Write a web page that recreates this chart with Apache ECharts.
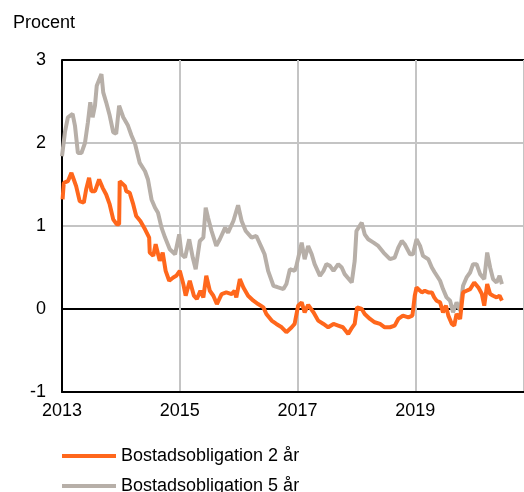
<!DOCTYPE html>
<html>
<head>
<meta charset="utf-8">
<script src="https://cdn.jsdelivr.net/npm/echarts@6/dist/echarts.min.js"></script>
<style>
  html, body { margin: 0; padding: 0; background: #fff; }
  #chart { width: 524px; height: 492px; }
</style>
</head>
<body>
<div id="chart"></div>
<script>
// Räntor, procent. x = decimalår
const seriesNames = ['Bostadsobligation 2 år', 'Bostadsobligation 5 år']
const yTicks = [-1, 0, 1, 2, 3]
const xTicks = [2013, 2015, 2017, 2019]

const t2 = [2013.01, 2013.03, 2013.10, 2013.16, 2013.20, 2013.24, 2013.30, 2013.37, 2013.41, 2013.46,
  2013.50, 2013.56, 2013.63, 2013.69, 2013.75, 2013.81, 2013.87, 2013.93, 2013.97, 2013.98,
  2014.07, 2014.09, 2014.15, 2014.21, 2014.26, 2014.33, 2014.41, 2014.48, 2014.49, 2014.55,
  2014.59, 2014.66, 2014.71, 2014.76, 2014.82, 2014.89, 2014.94, 2015.00, 2015.06, 2015.10,
  2015.17, 2015.24, 2015.29, 2015.35, 2015.40, 2015.45, 2015.51, 2015.57, 2015.63, 2015.71,
  2015.79, 2015.88, 2015.93, 2015.96, 2016.02, 2016.08, 2016.16, 2016.25, 2016.33, 2016.42,
  2016.47, 2016.56, 2016.64, 2016.73, 2016.81, 2016.90, 2016.95, 2017.01, 2017.07, 2017.12,
  2017.18, 2017.27, 2017.35, 2017.44, 2017.52, 2017.61, 2017.69, 2017.77, 2017.86, 2017.91,
  2017.97, 2018.01, 2018.09, 2018.14, 2018.23, 2018.31, 2018.40, 2018.48, 2018.57, 2018.65,
  2018.71, 2018.79, 2018.88, 2018.95, 2018.99, 2019.02, 2019.05, 2019.11, 2019.16, 2019.22,
  2019.28, 2019.32, 2019.36, 2019.42, 2019.47, 2019.52, 2019.56, 2019.62, 2019.66, 2019.70,
  2019.76, 2019.81, 2019.87, 2019.93, 2020.00, 2020.07, 2020.13, 2020.17, 2020.22, 2020.27,
  2020.32, 2020.38, 2020.43, 2020.47]
const rate2 = [1.32, 1.52, 1.54, 1.64, 1.56, 1.48, 1.30, 1.28, 1.44, 1.58,
  1.42, 1.42, 1.56, 1.46, 1.38, 1.26, 1.08, 1.02, 1.02, 1.54,
  1.48, 1.42, 1.40, 1.26, 1.12, 1.06, 0.96, 0.86, 0.68, 0.64,
  0.78, 0.58, 0.68, 0.46, 0.34, 0.38, 0.40, 0.46, 0.30, 0.16,
  0.34, 0.16, 0.12, 0.22, 0.14, 0.40, 0.22, 0.16, 0.06, 0.18,
  0.20, 0.18, 0.22, 0.14, 0.36, 0.26, 0.16, 0.10, 0.06, 0.02,
  -0.06, -0.14, -0.18, -0.22, -0.28, -0.22, -0.18, 0.04, 0.08, -0.04,
  0.05, -0.04, -0.14, -0.18, -0.22, -0.18, -0.20, -0.22, -0.30, -0.24,
  -0.18, 0.02, 0.00, -0.06, -0.12, -0.16, -0.18, -0.22, -0.22, -0.20,
  -0.12, -0.08, -0.10, -0.08, 0.16, 0.26, 0.26, 0.20, 0.22, 0.20,
  0.20, 0.14, 0.10, 0.08, -0.04, 0.04, -0.08, -0.18, -0.20, -0.06,
  -0.12, 0.20, 0.22, 0.24, 0.32, 0.26, 0.18, 0.04, 0.30, 0.18,
  0.16, 0.14, 0.16, 0.10]

const t5 = [2013.00, 2013.05, 2013.10, 2013.18, 2013.22, 2013.27, 2013.33, 2013.39, 2013.44, 2013.48,
  2013.52, 2013.56, 2013.59, 2013.67, 2013.70, 2013.75, 2013.81, 2013.87, 2013.92, 2013.97,
  2014.04, 2014.12, 2014.18, 2014.24, 2014.32, 2014.41, 2014.46, 2014.52, 2014.58, 2014.63,
  2014.69, 2014.75, 2014.83, 2014.92, 2014.99, 2015.03, 2015.09, 2015.16, 2015.22, 2015.27,
  2015.34, 2015.40, 2015.44, 2015.48, 2015.54, 2015.62, 2015.68, 2015.77, 2015.82, 2015.91,
  2015.99, 2016.05, 2016.12, 2016.22, 2016.30, 2016.39, 2016.44, 2016.50, 2016.59, 2016.67,
  2016.76, 2016.81, 2016.87, 2016.95, 2016.98, 2017.07, 2017.12, 2017.18, 2017.24, 2017.29,
  2017.38, 2017.44, 2017.49, 2017.55, 2017.61, 2017.69, 2017.75, 2017.80, 2017.92, 2017.97,
  2018.00, 2018.09, 2018.14, 2018.20, 2018.29, 2018.37, 2018.46, 2018.57, 2018.65, 2018.71,
  2018.77, 2018.82, 2018.91, 2018.96, 2019.02, 2019.08, 2019.13, 2019.22, 2019.28, 2019.33,
  2019.42, 2019.47, 2019.53, 2019.59, 2019.64, 2019.70, 2019.76, 2019.81, 2019.87, 2019.93,
  2019.98, 2020.04, 2020.10, 2020.17, 2020.22, 2020.27, 2020.32, 2020.38, 2020.43, 2020.47]
const rate5 = [1.84, 2.13, 2.31, 2.35, 2.21, 1.88, 1.88, 2.00, 2.25, 2.49,
  2.31, 2.45, 2.69, 2.83, 2.61, 2.49, 2.33, 2.13, 2.11, 2.45,
  2.31, 2.21, 2.09, 1.99, 1.76, 1.66, 1.56, 1.32, 1.22, 1.16,
  0.98, 0.86, 0.72, 0.66, 0.90, 0.66, 0.62, 0.84, 0.62, 0.48,
  0.82, 0.86, 1.22, 1.10, 0.94, 0.76, 0.84, 0.98, 0.92, 1.06,
  1.25, 1.06, 0.94, 0.86, 0.88, 0.74, 0.66, 0.46, 0.28, 0.26,
  0.24, 0.30, 0.48, 0.46, 0.52, 0.80, 0.60, 0.76, 0.66, 0.54,
  0.40, 0.46, 0.54, 0.52, 0.46, 0.54, 0.50, 0.42, 0.32, 0.58,
  0.94, 1.04, 0.90, 0.84, 0.80, 0.76, 0.68, 0.60, 0.62, 0.74,
  0.82, 0.78, 0.66, 0.66, 0.84, 0.76, 0.64, 0.60, 0.50, 0.44,
  0.34, 0.24, 0.14, 0.10, -0.04, 0.08, -0.02, 0.28, 0.38, 0.44,
  0.54, 0.54, 0.42, 0.36, 0.68, 0.50, 0.36, 0.32, 0.40, 0.30]

const zip = (xs, ys) => xs.map((x, i) => [x, ys[i]])

const chart = echarts.init(document.getElementById('chart'))
const font = '"Liberation Sans", Arial, sans-serif'
const legendBase = {
  left: 62,
  padding: 0,
  itemWidth: 54,
  itemHeight: 4,
  icon: 'rect',
  textStyle: { fontSize: 18, color: '#000', fontFamily: font },
}

chart.setOption({
  animation: false,
  textStyle: { fontFamily: font },
  graphic: [{
    type: 'text', left: 13, top: 14,
    style: { text: 'Procent', fontSize: 18, fill: '#000', fontFamily: font },
  }],
  legend: [
    { ...legendBase, top: 447, data: [seriesNames[0]] },
    { ...legendBase, top: 477, data: [seriesNames[1]] },
  ],
  grid: { left: 62, right: 0, top: 60, bottom: 100, containLabel: false, outerBoundsMode: 'none' },
  xAxis: {
    type: 'value',
    min: 2013,
    max: 2020.845,
    interval: 2,
    axisLine: { onZero: false, lineStyle: { color: '#000', width: 2 } },
    axisTick: { show: false },
    axisLabel: {
      color: '#000', fontSize: 18, margin: 10,
      showMaxLabel: false,
      formatter: v => xTicks.includes(v) ? String(v) : '',
    },
    splitLine: { show: true, lineStyle: { color: '#c4c4c4', width: 2 } },
  },
  yAxis: {
    type: 'value',
    min: yTicks[0],
    max: yTicks[yTicks.length - 1],
    interval: 1,
    axisLine: { show: true, lineStyle: { color: '#000', width: 2 } },
    axisTick: { show: false },
    axisLabel: { color: '#000', fontSize: 18, margin: 16 },
    splitLine: {
      show: true,
      lineStyle: { color: ['#000', '#000', '#c4c4c4', '#c4c4c4', '#000'], width: 2 },
    },
  },
  series: [
    {
      name: seriesNames[0],
      type: 'line',
      data: zip(t2, rate2),
      showSymbol: false,
      lineStyle: { color: '#ff671c', width: 4 },
      itemStyle: { color: '#ff671c' },
      z: 3,
    },
    {
      name: seriesNames[1],
      type: 'line',
      data: zip(t5, rate5),
      showSymbol: false,
      lineStyle: { color: '#b7afa8', width: 4 },
      itemStyle: { color: '#b7afa8' },
      z: 2,
    },
  ],
})
</script>
</body>
</html>
